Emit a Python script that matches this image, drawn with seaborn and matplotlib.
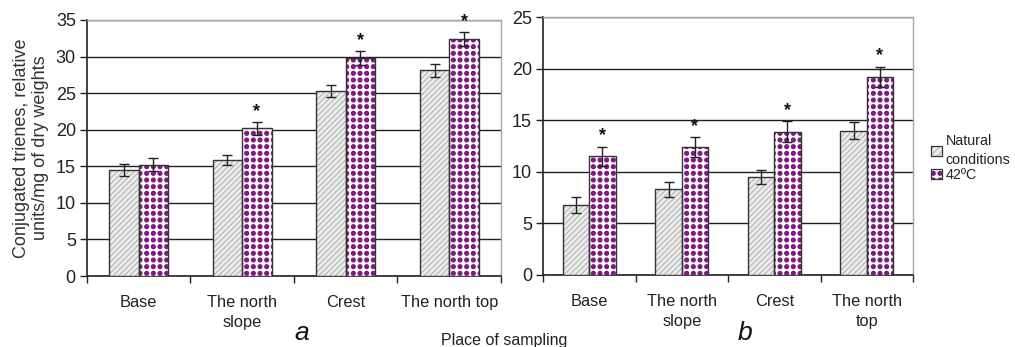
import numpy as np
import pandas as pd
import matplotlib
matplotlib.use("Agg")
import matplotlib.pyplot as plt
import matplotlib.hatch as mhatch
import seaborn as sns
from matplotlib.patches import Patch, Rectangle

# ---- data ----
places = ["Base", "The north slope", "Crest", "The north top"]
labels_a = ["Base", "The north\nslope", "Crest", "The north top"]
labels_b = ["Base", "The north\nslope", "Crest", "The north\ntop"]
series = ["Natural conditions", "42ºC"]

nat_a = [14.5, 15.9, 25.3, 28.1]
nat_a_err = [0.8, 0.7, 0.8, 0.9]
hot_a = [15.2, 20.2, 29.8, 32.4]
hot_a_err = [0.9, 0.9, 1.0, 0.9]
star_a = [False, True, True, True]

nat_b = [6.8, 8.3, 9.5, 14.0]
nat_b_err = [0.8, 0.7, 0.7, 0.8]
hot_b = [11.5, 12.4, 13.9, 19.2]
hot_b_err = [0.95, 1.0, 1.0, 1.0]
star_b = [True, True, True, True]


# square grid of filled dots for the "." hatch (the stock one is staggered and tiny)
class SquareDots(mhatch.SmallFilledCircles):
    size = 0.3

    def __init__(self, hatch, density):
        super().__init__(hatch, density)
        self.num_rows = hatch.count('.') * 5 if hatch else 0
        if self.num_rows:
            self.num_shapes = (self.num_rows + 1) ** 2
            self.num_vertices = self.num_shapes * len(self.shape_vertices)
        else:
            self.num_shapes = 0
            self.num_vertices = 0

    def set_vertices_and_codes(self, vertices, codes):
        offset = 1.0 / self.num_rows
        sv = self.shape_vertices * offset * self.size
        vparts, cparts = [], []
        for r in range(self.num_rows + 1):
            for c in range(self.num_rows + 1):
                vparts.append(sv + [c * offset, r * offset])
                cparts.append(self.shape_codes)
        np.concatenate(vparts, out=vertices)
        np.concatenate(cparts, out=codes)


mhatch._hatch_types[mhatch._hatch_types.index(mhatch.SmallFilledCircles)] = SquareDots

sns.set_theme(style="white")
plt.rcParams["font.family"] = ["Liberation Sans", "DejaVu Sans"]
plt.rcParams["hatch.linewidth"] = 0.8

NAT_FACE = "#ececec"
NAT_HATCH = "#b4b4b4"
PURPLE = "#7b1c80"
EDGE = "#333333"
TXT = "#222222"


def make_df(nat, hot):
    return pd.DataFrame({
        "place": places * 2,
        "value": nat + hot,
        "series": [series[0]] * 4 + [series[1]] * 4,
    })


def draw_panel(ax, nat, nat_err, hot, hot_err, stars, ymax, xlabels):
    df = make_df(nat, hot)
    sns.barplot(data=df, x="place", y="value", hue="series", order=places,
                hue_order=series, palette=["white", "white"], width=0.57,
                errorbar=None, legend=False, ax=ax, zorder=3)

    styles = [(NAT_FACE, NAT_HATCH, "//////"), ("white", PURPLE, "...")]
    errs = [nat_err, hot_err]
    vals = [nat, hot]
    bar_conts = list(ax.containers)[:2]
    for k, cont in enumerate(bar_conts):
        face, hcol, hatch = styles[k]
        xs = []
        for p in cont.patches:
            p.set_facecolor(face)
            p.set_edgecolor(hcol)
            p.set_hatch(hatch)
            p.set_linewidth(0)
            ax.add_patch(Rectangle(p.get_xy(), p.get_width(), p.get_height(),
                                   fill=False, ec=EDGE, lw=1.0, zorder=4))
            xs.append(p.get_x() + p.get_width() / 2)
        ax.errorbar(xs, vals[k], yerr=errs[k], fmt="none", ecolor="#222222",
                    elinewidth=1.0, capsize=3.5, capthick=1.0, zorder=5)
        if k == 1:
            for x, v, e, s in zip(xs, vals[k], errs[k], stars):
                if s:
                    ax.text(x, v + e + ymax * 0.008, "*", ha="center", va="bottom",
                            fontsize=13, fontweight="bold", color="#111111", zorder=6)

    ax.set_ylim(0, ymax)
    ax.set_xlim(-0.5, 3.5)
    ax.set_yticks(np.arange(0, ymax + 1, 5))
    ax.yaxis.grid(True, color="#202020", lw=1.0, zorder=0)
    ax.set_axisbelow(True)
    ax.set_xticks(range(4))
    ax.set_xticklabels(xlabels, fontsize=11.8, color=TXT, linespacing=1.4)
    ax.set_xticks(np.arange(-0.5, 4, 1), minor=True)
    ax.tick_params(axis="x", which="major", length=0, pad=14)
    ax.tick_params(axis="x", which="minor", length=5, width=1, color="#222222",
                   direction="out", bottom=True)
    ax.tick_params(axis="y", length=5, width=1, color="#222222", direction="out",
                   left=True, labelsize=13, labelcolor=TXT, pad=3)
    ax.set_xlabel("")
    ax.set_ylabel("")
    for side in ["left", "bottom"]:
        ax.spines[side].set_color("#222222")
        ax.spines[side].set_linewidth(1.2)
    for side in ["top", "right"]:
        ax.spines[side].set_color("#a8a8a8")
        ax.spines[side].set_linewidth(1.0)


fig = plt.figure(figsize=(10.15, 3.47), dpi=100)
ax_a = fig.add_axes([0.0857, 0.2046, 0.4079, 0.7378])
ax_b = fig.add_axes([0.535, 0.2075, 0.3645, 0.7435])

draw_panel(ax_a, nat_a, nat_a_err, hot_a, hot_a_err, star_a, 35, labels_a)
draw_panel(ax_b, nat_b, nat_b_err, hot_b, hot_b_err, star_b, 25, labels_b)

ax_a.set_ylabel("Conjugated trienes, relative\nunits/mg of dry weights",
                fontsize=13, color="#333333", labelpad=5, linespacing=1.15)

fig.text(0.297, 0.04, "a", fontsize=19, style="italic", color="#111111",
         ha="center", va="center")
fig.text(0.734, 0.04, "b", fontsize=19, style="italic", color="#111111",
         ha="center", va="center")
fig.text(0.497, 0.02, "Place of sampling", fontsize=11.5, color=TXT,
         ha="center", va="center")

handles = [
    (Patch(facecolor=NAT_FACE, edgecolor=NAT_HATCH, hatch="/////", lw=0),
     Patch(fill=False, edgecolor=EDGE, lw=0.9)),
    (Patch(facecolor="white", edgecolor=PURPLE, hatch="...", lw=0),
     Patch(fill=False, edgecolor=EDGE, lw=0.9)),
]
leg = fig.legend(handles, ["Natural\nconditions", "42ºC"], loc="upper left",
                 bbox_to_anchor=(0.912, 0.63), frameon=False, fontsize=10.3,
                 handlelength=0.75, handleheight=0.75, handletextpad=0.25,
                 labelspacing=0.05, borderaxespad=0)
for t in leg.get_texts():
    t.set_color(TXT)
    t.set_linespacing(1.45)

fig.savefig("out.png", dpi=100)
